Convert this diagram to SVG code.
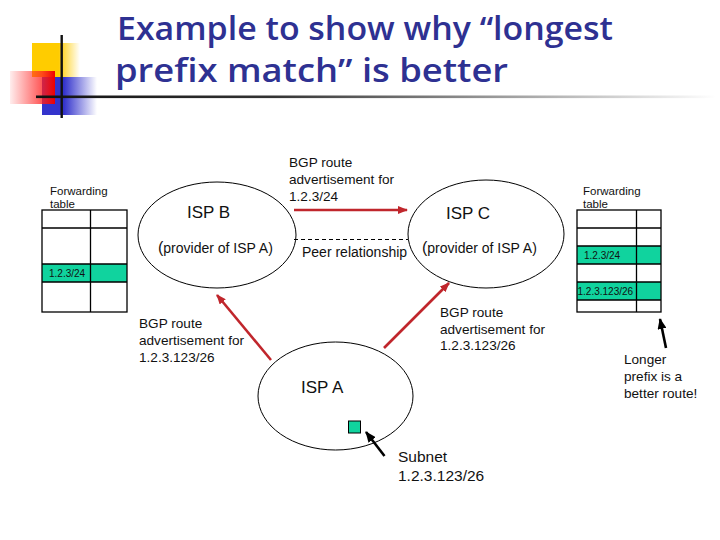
<svg xmlns="http://www.w3.org/2000/svg" width="720" height="540" viewBox="0 0 720 540">
<defs>
<style>
.t{font-family:"Liberation Sans",Arial,sans-serif;fill:#111;}
.lbl{font-size:13.6px;}
.isp{font-size:17px;}
.prov{font-size:14px;}
.ft{font-size:11.5px;}
.cell{font-size:10px;}
.title{font-family:"Open Sans","DejaVu Sans",sans-serif;font-size:33px;font-weight:600;fill:#2E3192;}
.ell{fill:none;stroke:#000;stroke-width:1;}
.tbl{fill:none;stroke:#000;stroke-width:1.3;}
.green{fill:#10D39E;}
.red{stroke:#C0262C;stroke-width:2.6;fill:none;}
.blk{stroke:#000;stroke-width:2.6;fill:none;}
</style>
<linearGradient id="gy" x1="0" y1="0" x2="1" y2="0"><stop offset="0" stop-color="#FFCC00"/><stop offset="0.55" stop-color="#FFCC00"/><stop offset="1" stop-color="#FFCC00" stop-opacity="0"/></linearGradient>
<linearGradient id="gb" x1="0" y1="0" x2="1" y2="0"><stop offset="0" stop-color="#3333CC"/><stop offset="0.4" stop-color="#3333CC"/><stop offset="1" stop-color="#3333CC" stop-opacity="0"/></linearGradient>
<linearGradient id="gr" x1="0" y1="0" x2="1" y2="0"><stop offset="0" stop-color="#FF2222" stop-opacity="0.08"/><stop offset="0.7" stop-color="#FF2222" stop-opacity="0.75"/><stop offset="1" stop-color="#EE0000"/></linearGradient>
<linearGradient id="gl" x1="0" y1="0" x2="1" y2="0"><stop offset="0" stop-color="#111"/><stop offset="0.35" stop-color="#333"/><stop offset="1" stop-color="#fff"/></linearGradient>
<marker id="ar" markerUnits="userSpaceOnUse" markerWidth="10" markerHeight="8" refX="9" refY="4" orient="auto"><path d="M0,0 L10,4 L0,8 z" fill="#C0262C"/></marker>
<marker id="ab" markerUnits="userSpaceOnUse" markerWidth="11" markerHeight="9" refX="10" refY="4.5" orient="auto"><path d="M0,0 L11,4.5 L0,9 z" fill="#000"/></marker>
</defs>
<rect width="720" height="540" fill="#fff"/>
<g id="logo">
<rect x="32" y="43" width="48" height="34" fill="url(#gy)"/>
<rect x="42" y="77" width="55" height="38" fill="url(#gb)"/>
<rect x="10" y="71" width="45" height="33" fill="url(#gr)"/>
<rect x="36" y="95.5" width="680" height="2.6" fill="url(#gl)"/>
<rect x="60.5" y="35" width="2.4" height="83" fill="#111"/>
</g>
<g id="title">
<text class="title" x="117" y="40" textLength="496" lengthAdjust="spacingAndGlyphs">Example to show why “longest</text>
<text class="title" x="115" y="82" textLength="393" lengthAdjust="spacingAndGlyphs">prefix match” is better</text>
</g>
<g id="table-left">
<text class="t ft" x="50" y="195">Forwarding</text>
<text class="t ft" x="50" y="208">table</text>
<rect class="green" x="42" y="264" width="85" height="18"/>
<rect class="tbl" x="42" y="210" width="85" height="102"/>
<path class="tbl" d="M90.5,210 V312 M42,228 H127 M42,264 H127 M42,282 H127"/>
<text class="t cell" x="49" y="276.5">1.2.3/24</text>
</g>
<g id="table-right">
<text class="t ft" x="583" y="195">Forwarding</text>
<text class="t ft" x="583" y="208">table</text>
<rect class="green" x="577" y="246" width="84" height="18"/>
<rect class="green" x="577" y="282" width="84" height="18"/>
<rect class="tbl" x="577" y="210" width="84" height="102"/>
<path class="tbl" d="M636.5,210 V312 M577,228 H661 M577,246 H661 M577,264 H661 M577,282 H661 M577,300 H661"/>
<text class="t cell" x="584" y="258.5">1.2.3/24</text>
<text class="t cell" x="577.5" y="294.5">1.2.3.123/26</text>
</g>
<g id="isp-b">
<ellipse class="ell" cx="217" cy="235" rx="79" ry="53"/>
<text class="t isp" x="187" y="218">ISP B</text>
<text class="t prov" x="158" y="253"><tspan font-size="16">(</tspan>provider of ISP A)</text>
</g>
<g id="isp-c">
<ellipse class="ell" cx="486" cy="234" rx="78" ry="54"/>
<text class="t isp" x="446" y="219">ISP C</text>
<text class="t prov" x="422" y="253"><tspan font-size="16">(</tspan>provider of ISP A)</text>
</g>
<g id="isp-a">
<ellipse class="ell" cx="335.5" cy="396" rx="77.5" ry="54"/>
<text class="t isp" x="301" y="393">ISP A</text>
</g>
<g id="subnet">
<rect x="348.5" y="421" width="12" height="12" fill="#10D39E" stroke="#000" stroke-width="1"/>
</g>
<g id="connectors">
<path class="red" d="M294,210 H407" marker-end="url(#ar)"/>
<path class="red" d="M271,360 L217,295" marker-end="url(#ar)"/>
<path class="red" d="M384,348 L449,283" marker-end="url(#ar)"/>
<path d="M294,239.5 H408" fill="none" stroke="#000" stroke-width="1" stroke-dasharray="4,3"/>
<path class="blk" d="M384.5,456 L366,432" marker-end="url(#ab)"/>
<path class="blk" d="M666,348 L660,319" marker-end="url(#ab)"/>
</g>
<g id="labels">
<text class="t lbl" x="289" y="167">BGP route</text>
<text class="t lbl" x="289" y="184">advertisement for</text>
<text class="t lbl" x="289" y="200.5">1.2.3/24</text>
<text class="t prov" x="302" y="257">Peer relationship</text>
<text class="t lbl" x="139" y="328">BGP route</text>
<text class="t lbl" x="139" y="345">advertisement for</text>
<text class="t lbl" x="139" y="362">1.2.3.123/26</text>
<text class="t lbl" x="440" y="316.5">BGP route</text>
<text class="t lbl" x="440" y="333.5">advertisement for</text>
<text class="t lbl" x="440" y="350">1.2.3.123/26</text>
<text class="t" font-size="15.5" x="398" y="462">Subnet</text>
<text class="t" font-size="15.5" x="398" y="481">1.2.3.123/26</text>
<text class="t lbl" x="624" y="364">Longer</text>
<text class="t lbl" x="624" y="381">prefix is a</text>
<text class="t lbl" x="624" y="398">better route!</text>
</g>
</svg>
